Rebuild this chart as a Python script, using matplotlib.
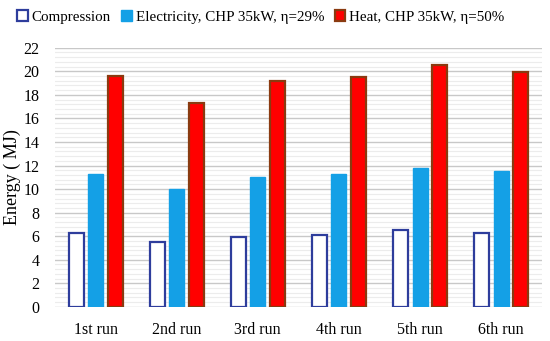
import numpy as np
import matplotlib.pyplot as plt
from matplotlib.ticker import MultipleLocator

runs = ['1st run', '2nd run', '3rd run', '4th run', '5th run', '6th run']
compression = [6.3, 5.5, 5.9, 6.1, 6.5, 6.3]
electricity = [11.3, 10.0, 11.0, 11.3, 11.8, 11.5]
heat = [19.6, 17.3, 19.2, 19.5, 20.5, 19.95]

plt.rcParams['font.family'] = ['Liberation Serif', 'DejaVu Serif']

fig = plt.figure(figsize=(5.5, 3.41), dpi=100)
ax = fig.add_axes([0.1, 0.1, 0.885, 0.76])

x = np.arange(len(runs))
w = 0.185
ax.bar(x - 0.24, compression, w, facecolor='white', edgecolor='#2E3D9C',
       linewidth=1.6, label='Compression', zorder=3)
ax.bar(x, electricity, w, facecolor='#14A0E6', edgecolor='#14A0E6',
       linewidth=1.0, label=r'Electricity, CHP 35kW, η=29%', zorder=3)
ax.bar(x + 0.24, heat, w, facecolor='#FF0000', edgecolor='#8A3A10',
       linewidth=1.6, label=r'Heat, CHP 35kW, η=50%', zorder=3)

ax.set_xlim(-0.5, 5.5)
ax.set_ylim(0, 22)
ax.set_xticks(x)
ax.set_xticklabels(runs, fontsize=11.5)
ax.yaxis.set_major_locator(MultipleLocator(2))
ax.yaxis.set_minor_locator(MultipleLocator(0.4))
ax.tick_params(axis='y', labelsize=11.5, length=0, which='both', pad=11)
ax.tick_params(axis='x', length=0, pad=11)
ax.grid(axis='y', which='major', color='#c8c8c8', linewidth=1.0, zorder=0)
ax.grid(axis='y', which='minor', color='#ececec', linewidth=0.8, zorder=0)
for s in ax.spines.values():
    s.set_visible(False)
ax.set_ylabel('Energy ( MJ)', fontsize=13, labelpad=2)

handles, labels = ax.get_legend_handles_labels()
fig.legend(handles, labels, loc='upper center', bbox_to_anchor=(0.474, 1.01),
           ncol=3, frameon=False, fontsize=10.8, handlelength=0.7,
           handleheight=0.7, handletextpad=0.25, columnspacing=0.7)

fig.savefig('out.png', dpi=100)
